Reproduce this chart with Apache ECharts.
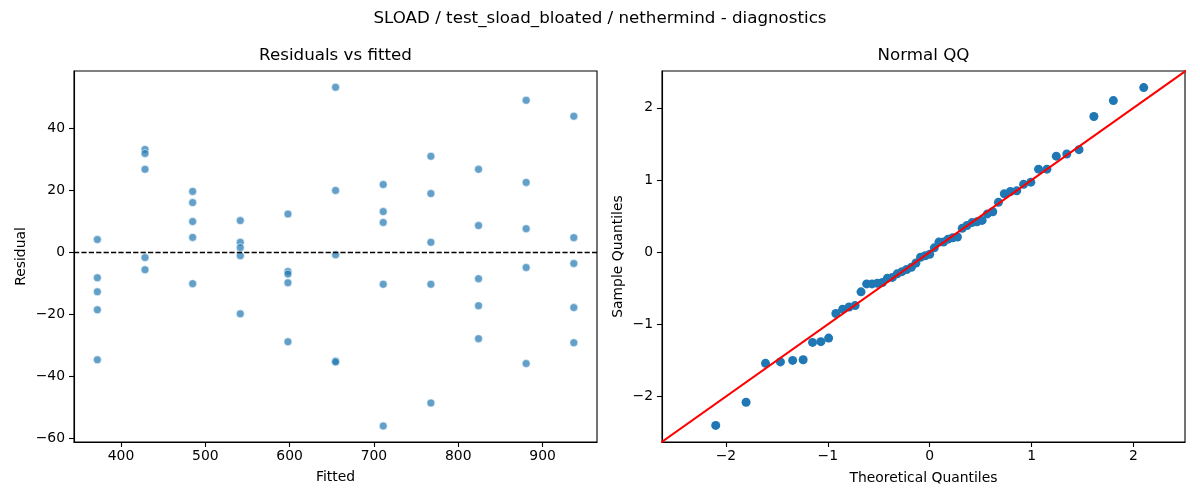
<!DOCTYPE html>
<html>
<head>
<meta charset="utf-8">
<script src="https://cdn.jsdelivr.net/npm/echarts@6/dist/echarts.min.js"></script>
<style>
  html, body { margin: 0; padding: 0; background: #fff; }
  #chart { width: 1200px; height: 500px; }
</style>
</head>
<body>
<div id="chart"></div>
<script>
var fittedLevels = [372, 428.5, 485, 541.5, 598, 654.5, 711, 767.5, 824, 880.5, 937];
var residualsByLevel = [
  [4.1, -8.2, -12.7, -18.5, -34.6],
  [33.1, 31.8, 26.7, -1.7, -5.6],
  [19.6, 16.0, 9.9, 4.8, -10.1],
  [10.2, 3.2, 1.5, -1.1, -19.8],
  [12.3, -6.2, -7.0, -9.8, -28.8],
  [53.1, 19.9, -0.8, -35.0, -35.3],
  [21.8, 13.1, 9.6, -10.3, -55.9],
  [30.9, 18.9, 3.2, -10.3, -48.5],
  [26.7, 8.6, -8.5, -17.2, -27.8],
  [48.9, 22.5, 7.6, -4.9, -35.8],
  [43.8, 4.7, -3.6, -17.8, -29.1]
];

// normal QQ: theoretical vs sample quantiles
var theoretical = [
  -2.100, -1.802, -1.611, -1.465, -1.345, -1.242, -1.150, -1.068, -0.992, -0.921,
  -0.854, -0.792, -0.732, -0.674, -0.619, -0.566, -0.514, -0.464, -0.415, -0.366,
  -0.319, -0.272, -0.226, -0.180, -0.135, -0.090, -0.045, 0.000, 0.045, 0.090,
  0.135, 0.180, 0.226, 0.272, 0.319, 0.366, 0.415, 0.464, 0.514, 0.566,
  0.619, 0.674, 0.732, 0.792, 0.854, 0.921, 0.992, 1.068, 1.150, 1.242,
  1.345, 1.465, 1.611, 1.802, 2.100
];
var sample = [
  -2.40, -2.08, -1.54, -1.52, -1.50, -1.49, -1.25, -1.24, -1.19, -0.85,
  -0.79, -0.76, -0.74, -0.55, -0.44, -0.44, -0.43, -0.42, -0.36, -0.35,
  -0.30, -0.27, -0.24, -0.21, -0.15, -0.07, -0.05, -0.03, 0.06, 0.14,
  0.14, 0.18, 0.20, 0.21, 0.33, 0.37, 0.41, 0.42, 0.44, 0.53,
  0.56, 0.69, 0.81, 0.84, 0.85, 0.94, 0.97, 1.15, 1.15, 1.33,
  1.36, 1.42, 1.88, 2.10, 2.28
];
var refLine = [-3, 3];

var residTicksX = [400, 500, 600, 700, 800, 900];
var residTicksY = [-60, -40, -20, 0, 20, 40];
var qqTicks = [-2, -1, 0, 1, 2];

var residData = [];
fittedLevels.forEach(function (f, i) {
  residualsByLevel[i].forEach(function (r) { residData.push([f, r]); });
});
var qqData = theoretical.map(function (t, i) { return [t, sample[i]]; });
var lineData = refLine.map(function (v) { return [v, v]; });

var FONT = 'DejaVu Sans';
var minus = function (v) { return String(v).replace('-', '\u2212'); };

function axis(gridIndex, min, max, ticks, name, nameGap, isY) {
  return {
    type: 'value',
    gridIndex: gridIndex,
    min: min,
    max: max,
    name: name,
    nameLocation: 'middle',
    nameGap: nameGap,
    nameTextStyle: { color: '#000', fontFamily: FONT, fontSize: 13.9 },
    axisLine: { show: true, onZero: false, lineStyle: { color: '#000', width: 1.1 } },
    axisTick: { show: true, length: 5, lineStyle: { color: '#000', width: 1.1 }, customValues: ticks },
    axisLabel: {
      color: '#000', fontFamily: FONT, fontSize: 13.9,
      margin: isY ? 9 : 7,
      customValues: ticks,
      formatter: minus
    },
    splitLine: { show: false }
  };
}

var chart = echarts.init(document.getElementById('chart'));
chart.setOption({
  animation: false,
  backgroundColor: '#fff',
  title: [
    { text: 'SLOAD / test_sload_bloated / nethermind - diagnostics', left: 600, top: 10, textAlign: 'center', padding: 0,
      textStyle: { fontFamily: FONT, fontSize: 16.7, fontWeight: 'normal', color: '#000', lineHeight: 17 } },
    { text: 'Residuals vs fitted', left: 335.5, top: 47, textAlign: 'center', padding: 0,
      textStyle: { fontFamily: FONT, fontSize: 16.7, fontWeight: 'normal', color: '#000', lineHeight: 17 } },
    { text: 'Normal QQ', left: 923.5, top: 47, textAlign: 'center', padding: 0,
      textStyle: { fontFamily: FONT, fontSize: 16.7, fontWeight: 'normal', color: '#000', lineHeight: 17 } }
  ],
  grid: [
    { left: 74, top: 71, width: 523, height: 371, show: true, borderColor: '#000', borderWidth: 1.1 },
    { left: 662, top: 71, width: 523, height: 371, show: true, borderColor: '#000', borderWidth: 1.1 }
  ],
  xAxis: [
    axis(0, 344.3, 964.5, residTicksX, 'Fitted', 28, false),
    axis(1, -2.627, 2.505, qqTicks, 'Theoretical Quantiles', 29, false)
  ],
  yAxis: [
    axis(0, -61.06, 58.35, residTicksY, 'Residual', 46, true),
    axis(1, -2.63, 2.51, qqTicks, 'Sample Quantiles', 37, true)
  ],
  series: [
    {
      type: 'scatter', xAxisIndex: 0, yAxisIndex: 0,
      data: residData,
      symbolSize: 8,
      itemStyle: { color: '#1f77b4', opacity: 0.7, borderColor: '#fff', borderWidth: 0.8 },
      markLine: {
        silent: true, symbol: 'none', label: { show: false },
        lineStyle: { color: '#000', width: 1.4, type: [5.2, 2.2] },
        data: [{ yAxis: 0 }],
        z: 4
      },
      z: 2
    },
    {
      type: 'scatter', xAxisIndex: 1, yAxisIndex: 1,
      data: qqData,
      symbolSize: 9,
      itemStyle: { color: '#1f77b4', opacity: 1 },
      z: 2
    },
    {
      type: 'line', xAxisIndex: 1, yAxisIndex: 1,
      data: lineData,
      showSymbol: false, symbol: 'none', clip: true,
      lineStyle: { color: '#ff0000', width: 2 },
      z: 3
    }
  ]
});
</script>
</body>
</html>
